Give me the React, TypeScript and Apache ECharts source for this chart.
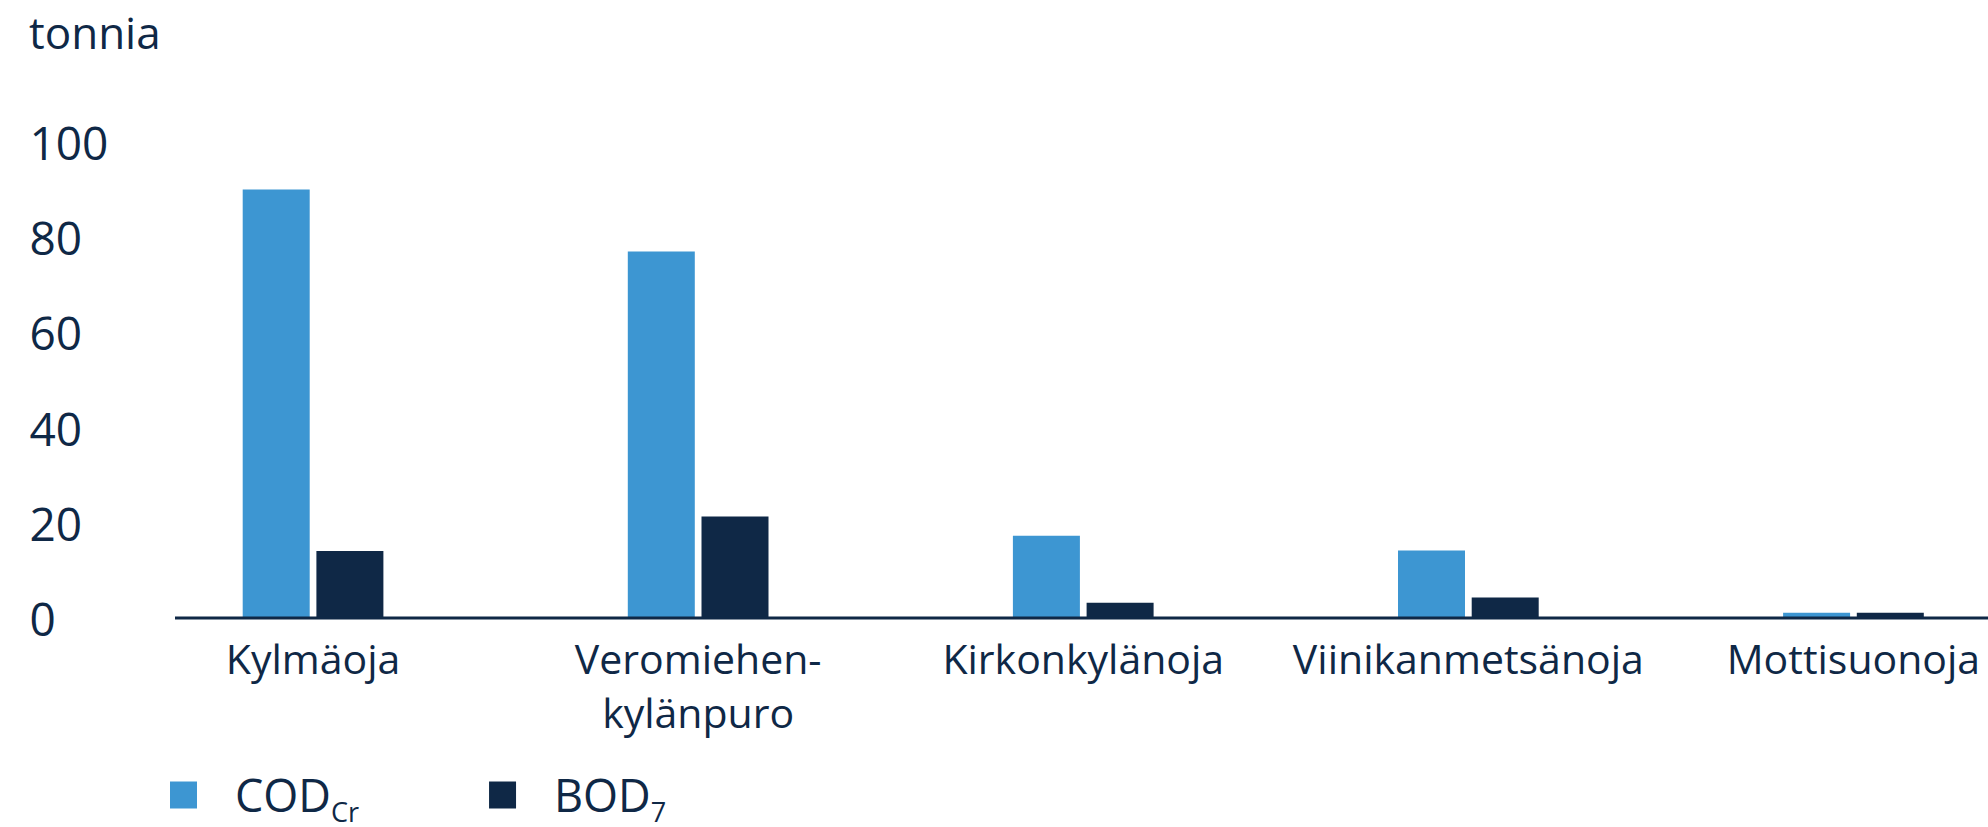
import React, { useEffect, useRef } from "react";
import * as echarts from "echarts";

const categories = ["Kylmäoja", "Veromiehen-\nkylänpuro", "Kirkonkylänoja", "Viinikanmetsänoja", "Mottisuonoja"];
const codValues = [90, 77, 17.3, 14.2, 1.1];
const bodValues = [14.1, 21.3, 3.2, 4.3, 1.1];
const yTicks = { min: 0, max: 100, interval: 20 };
const seriesNames = ["COD", "BOD"];

const NAVY = "#0f2846";
const BLUE = "#3d96d2";
const FONT = "'Open Sans', sans-serif";

export default function App() {
  const ref = useRef<HTMLDivElement>(null);
  useEffect(() => {
    if (!ref.current) return;
    const chart = echarts.init(ref.current, null, { renderer: "svg" });
    chart.setOption({
      animation: false,
      backgroundColor: "#ffffff",
      textStyle: { fontFamily: FONT, color: NAVY },
      title: {
        text: "tonnia",
        left: 24,
        top: 5,
        textStyle: { fontFamily: FONT, fontSize: 44, fontWeight: "normal", color: NAVY },
      },
      grid: { left: 120.5, right: 0, top: 142, bottom: 209, containLabel: false },
      legend: {
        left: 170,
        top: 772,
        padding: 0,
        icon: "rect",
        itemWidth: 27,
        itemHeight: 27,
        itemGap: 130,
        data: seriesNames,
        formatter: (name: string) =>
          name === "COD" ? "{sp|}{a|COD}{b|Cr}" : "{sp|}{a|BOD}{b|7}",
        textStyle: {
          color: NAVY,
          fontFamily: FONT,
          rich: {
            sp: { width: 33 },
            a: { fontSize: 45, color: NAVY, fontFamily: FONT, lineHeight: 44, verticalAlign: "bottom" },
            b: { fontSize: 27, color: NAVY, fontFamily: FONT, lineHeight: 44, verticalAlign: "bottom", padding: [0, 0, -8, 0] },
          },
        },
      },
      xAxis: {
        type: "category",
        data: categories,
        axisLine: { show: false },
        axisTick: { show: false },
        axisLabel: {
          color: NAVY,
          fontFamily: FONT,
          fontSize: 41,
          lineHeight: 54,
          margin: 13,
          interval: 0,
        },
      },
      yAxis: {
        type: "value",
        min: yTicks.min,
        max: yTicks.max,
        interval: yTicks.interval,
        splitLine: { show: false },
        axisLine: { show: false },
        axisTick: { show: false },
        axisLabel: {
          color: NAVY,
          fontFamily: FONT,
          fontSize: 46,
          align: "left",
          margin: 91,
        },
      },
      series: [
        {
          name: "COD",
          type: "bar",
          data: codValues,
          barWidth: 67,
          barGap: "10%",
          itemStyle: { color: BLUE },
        },
        {
          name: "BOD",
          type: "bar",
          data: bodValues,
          barWidth: 67,
          barGap: "10%",
          itemStyle: { color: NAVY },
        },
      ],
      graphic: [
        {
          type: "line",
          shape: { x1: 175, y1: 618, x2: 2046, y2: 618 },
          style: { stroke: NAVY, lineWidth: 3 },
          z: 100,
        },
      ],
    });
    return () => chart.dispose();
  }, []);
  return (
    <div
      style={{ position: "absolute", left: 0, top: 0, width: 1988, height: 827, overflow: "hidden" }}
    >
      <div ref={ref} style={{ width: 2046, height: 827 }} />
    </div>
  );
}
